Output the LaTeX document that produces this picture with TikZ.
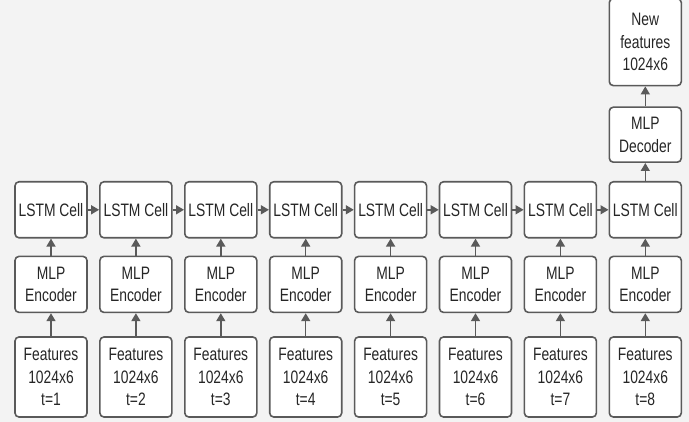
\documentclass[tikz,border=0pt]{standalone}
\usepackage{fontspec}
\setmainfont{Liberation Sans}[FakeStretch=0.77]
\usetikzlibrary{arrows.meta,positioning}
\definecolor{boxgray}{HTML}{5A5A5A}
\definecolor{bggray}{HTML}{F3F3F3}
\tikzset{
  box/.style={draw=boxgray,fill=white,line width=1.6pt,rounded corners=4pt,minimum width=72pt,minimum height=56pt,inner sep=0pt,align=center,text=black!85,font=\fontsize{18}{22.5}\selectfont},
  featbox/.style={box,minimum height=80pt},
  outbox/.style={box,minimum height=87pt},
  link/.style={-{Triangle[length=8pt,width=9pt]},draw=boxgray,line width=1.5pt}
}
\begin{document}
\begin{tikzpicture}[x=1pt,y=1pt]
  \fill[bggray] (0,0) rectangle (689,422);
  \useasboundingbox (0,0) rectangle (689,422);
  \foreach \i in {1,...,8} {
    \node[featbox] (feat\i) at ({51+(\i-1)*84.9},45) {Features\\1024x6\\t=\i};
    \node[box,above=23pt of feat\i] (enc\i) {MLP\\Encoder};
    \node[box,above=17pt of enc\i] (lstm\i) {LSTM Cell};
    \draw[link] (feat\i) -- (enc\i);
    \draw[link] (enc\i) -- (lstm\i);
  }
  \foreach \i [count=\j from 2] in {1,...,7}
    \draw[link] (lstm\i) -- (lstm\j);
  % decoder on the last step
  \node[box,minimum height=55pt,above=18pt of lstm8] (dec) {MLP\\Decoder};
  \node[outbox,above=20pt of dec] (newfeat) {New\\features\\1024x6};
  \draw[link] (lstm8) -- (dec);
  \draw[link] (dec) -- (newfeat);
\end{tikzpicture}
\end{document}
